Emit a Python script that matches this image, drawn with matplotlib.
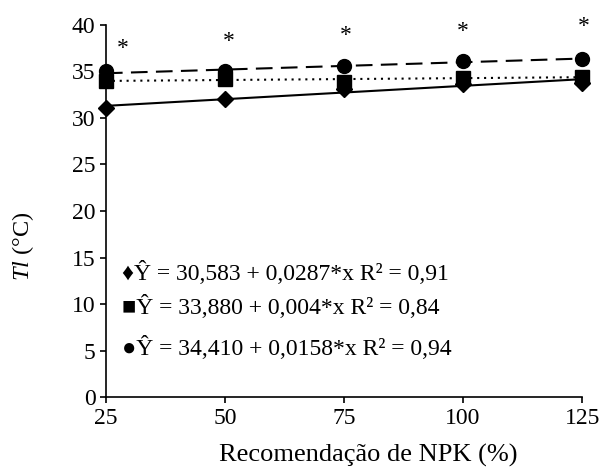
import numpy as np
import matplotlib
matplotlib.use('Agg')
import matplotlib.pyplot as plt

plt.rcParams['font.family'] = ['Liberation Serif', 'DejaVu Sans']
plt.rcParams['mathtext.fontset'] = 'custom'
plt.rcParams['mathtext.rm'] = 'Liberation Serif'
plt.rcParams['mathtext.it'] = 'Liberation Serif:italic'

# data
npk = [25, 50, 75, 100, 125]
tl_diamond = [31.1, 32.0, 33.1, 33.6, 33.8]
tl_square = [34.0, 34.2, 33.9, 34.3, 34.4]
tl_circle = [35.0, 35.0, 35.6, 36.1, 36.3]
star_y = [37.5, 38.2, 38.9, 39.3, 39.8]
star_x = [28.6, 50.7, 75.4, 100, 125.4]

# fitted equations
fits = [(30.583, 0.0287), (33.880, 0.004), (34.410, 0.0158)]
eq_labels = ['\u2666\u0176 = 30,583 + 0,0287*x R\u00b2 = 0,91',
             '\u25a0\u0176 = 33,880 + 0,004*x R\u00b2 = 0,84',
             '\u25cf\u0176 = 34,410 + 0,0158*x R\u00b2 = 0,94']
eq_y = [13.3, 9.7, 5.3]

fig = plt.figure(figsize=(6.02, 4.70), dpi=100)
ax = fig.add_axes([0.176, 0.155, 0.791, 0.792])

xs = np.array([25, 125])
styles = ['-', (0, (1, 2.3)), (0, (8, 4))]
markers = ['D', 's', 'o']
msizes = [8.5, 9.5, 10]
for (a, b), ls in zip(fits, styles):
    ax.plot(xs, a + b * xs, color='black', linestyle=ls, linewidth=1.5)
for vals, m, ms in zip([tl_diamond, tl_square, tl_circle], markers, msizes):
    ax.plot(npk, vals, linestyle='none', marker=m, markersize=ms, color='black',
            clip_on=False)

for x, y in zip(star_x, star_y):
    ax.text(x, y, '*', ha='center', va='center', fontsize=17)

for lbl, y in zip(eq_labels, eq_y):
    ax.text(28.3, y, lbl, ha='left', va='center', fontsize=17)

ax.set_xlim(25, 125)
ax.set_ylim(0, 40)
ax.set_xticks(npk)
ax.set_yticks(range(0, 41, 5))
ax.spines['top'].set_visible(False)
ax.spines['right'].set_visible(False)
ax.tick_params(direction='out', labelsize=17, length=4, width=1.2)
for s in ['left', 'bottom']:
    ax.spines[s].set_linewidth(1.2)
ax.set_xlabel('Recomendação de NPK (%)', fontsize=19, va='center')
ax.set_ylabel('$\\it{Tl}$ (°C)', fontsize=17.5, va='center')
ax.xaxis.set_label_coords(0.55, -0.156)
ax.yaxis.set_label_coords(-0.174, 0.406)

fig.savefig('out.png', dpi=100)
